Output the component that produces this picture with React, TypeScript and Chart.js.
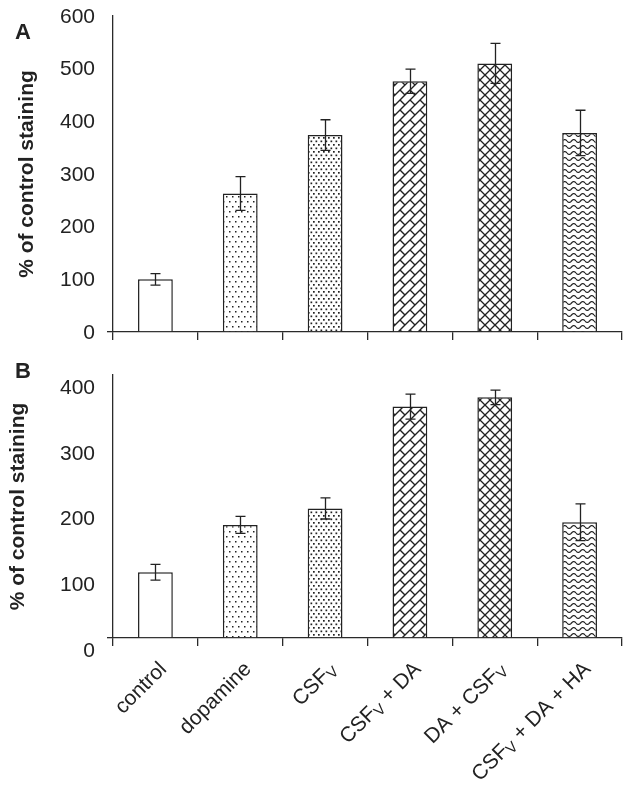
import React, { useEffect, useRef } from 'react';
import { Chart, registerables } from 'chart.js';

Chart.register(...registerables);

// ---------- data ----------
const categories = ['control', 'dopamine', 'CSF_V', 'CSF_V + DA', 'DA + CSF_V', 'CSF_V + DA + HA'];
const valuesA = [100, 263, 374, 476, 510, 378];
const errorsA = [11, 32, 29, 23, 38, 43];
const valuesB = [100, 172, 197, 352, 366, 176];
const errorsB = [12, 13, 16, 19, 11, 28];
const ticksA = [0, 100, 200, 300, 400, 500, 600];
const ticksB = [0, 100, 200, 300, 400];
const yTitle = '% of control staining';
const panelLetters = ['A', 'B'];

const FONT = "'Liberation Sans', Arial, Helvetica, sans-serif";
const INK = '#222222';
const AXIS = '#2a2a2a';

// ---------- fill patterns ----------
function makeTile(w: number, h: number, draw: (g: CanvasRenderingContext2D) => void) {
  const c = document.createElement('canvas');
  c.width = w;
  c.height = h;
  const g = c.getContext('2d') as CanvasRenderingContext2D;
  g.fillStyle = '#ffffff';
  g.fillRect(0, 0, w, h);
  g.fillStyle = INK;
  g.strokeStyle = INK;
  draw(g);
  return g.createPattern(c, 'repeat') as CanvasPattern;
}

function makeFills(): (string | CanvasPattern)[] {
  const sparseDots = makeTile(6, 10, (g) => {
    g.fillRect(1, 1, 1.5, 1.5);
    g.fillRect(4, 6, 1.5, 1.5);
  });
  const denseDots = makeTile(5, 7, (g) => {
    g.fillRect(0.5, 0.5, 1.7, 1.7);
    g.fillRect(3, 4, 1.7, 1.7);
  });
  const brick = makeTile(20, 20, (g) => {
    const d = 10;
    g.lineWidth = 1.4;
    g.beginPath();
    for (let k = -1; k <= 5; k++) {
      const s = k * d;
      g.moveTo(-10, s + 10);
      g.lineTo(s + 10, -10);
    }
    for (let r = -3; r <= 6; r++) {
      const par = ((r % 2) + 2) % 2;
      for (let D = -60; D <= 60; D += 20) {
        const dd = D + par * d;
        const s1 = r * d;
        const s2 = (r + 1) * d;
        g.moveTo((s1 + dd) / 2, (s1 - dd) / 2);
        g.lineTo((s2 + dd) / 2, (s2 - dd) / 2);
      }
    }
    g.stroke();
  });
  const cross = makeTile(10, 10, (g) => {
    g.lineWidth = 1.3;
    g.beginPath();
    g.moveTo(-1, -1);
    g.lineTo(11, 11);
    g.moveTo(11, -1);
    g.lineTo(-1, 11);
    g.stroke();
  });
  const wave = makeTile(9, 6, (g) => {
    g.lineWidth = 1.2;
    g.beginPath();
    for (let x = 0; x <= 9; x += 0.5) {
      const y = 3 + 1.4 * Math.sin((2 * Math.PI * x) / 9);
      if (x === 0) g.moveTo(x, y);
      else g.lineTo(x, y);
    }
    g.stroke();
  });
  return ['#ffffff', sparseDots, denseDots, brick, cross, wave];
}

// ---------- plugins ----------
const errorBarPlugin = {
  id: 'errbars',
  afterDatasetsDraw(chart: any, _args: any, opts: any) {
    const { ctx } = chart;
    const y = chart.scales.y;
    const meta = chart.getDatasetMeta(0);
    const vals = chart.data.datasets[0].data as number[];
    const errs = opts.errors as number[];
    ctx.save();
    ctx.strokeStyle = INK;
    ctx.lineWidth = 1.3;
    meta.data.forEach((bar: any, i: number) => {
      const x = Math.round(bar.x) + 0.5;
      const yT = y.getPixelForValue(vals[i] + errs[i]);
      const yB = y.getPixelForValue(vals[i] - errs[i]);
      ctx.beginPath();
      ctx.moveTo(x, yT);
      ctx.lineTo(x, yB);
      ctx.moveTo(x - 5, yT);
      ctx.lineTo(x + 5, yT);
      ctx.moveTo(x - 5, yB);
      ctx.lineTo(x + 5, yB);
      ctx.stroke();
    });
    ctx.restore();
  },
};

function drawRotatedLabel(ctx: CanvasRenderingContext2D, label: string, x: number, y: number) {
  const parts: { t: string; sub: boolean; w: number }[] = [];
  label.split(/(_\w)/).forEach((p) => {
    if (!p) return;
    if (p.startsWith('_')) parts.push({ t: p.slice(1), sub: true, w: 0 });
    else parts.push({ t: p, sub: false, w: 0 });
  });
  const mainFont = `21px ${FONT}`;
  const subFont = `15px ${FONT}`;
  ctx.save();
  ctx.translate(x, y);
  ctx.rotate(-Math.PI / 4);
  let total = 0;
  parts.forEach((p) => {
    ctx.font = p.sub ? subFont : mainFont;
    p.w = ctx.measureText(p.t).width;
    total += p.w;
  });
  ctx.fillStyle = INK;
  ctx.textBaseline = 'middle';
  ctx.textAlign = 'left';
  let cx = -total;
  parts.forEach((p) => {
    ctx.font = p.sub ? subFont : mainFont;
    ctx.fillText(p.t, cx, p.sub ? 5 : 0);
    cx += p.w;
  });
  ctx.restore();
}

const xLabelPlugin = {
  id: 'xlabels',
  afterDraw(chart: any, _args: any, opts: any) {
    if (!opts.show) return;
    const { ctx } = chart;
    const x = chart.scales.x;
    (chart.data.labels as string[]).forEach((lab, i) => {
      const px = x.getPixelForValue(i);
      drawRotatedLabel(ctx, lab, px + 8, x.top + 28);
    });
  },
};

// ---------- config ----------
function buildConfig(
  values: number[],
  errors: number[],
  ticks: number[],
  fills: (string | CanvasPattern)[],
  showLabels: boolean,
  padding: { left: number; right: number; top: number; bottom: number },
  labelOffset: number,
  titlePad: number
): any {
  return {
    type: 'bar',
    data: {
      labels: categories,
      datasets: [
        {
          data: values,
          backgroundColor: fills,
          borderColor: INK,
          borderWidth: 1.5,
          barPercentage: 0.41,
          categoryPercentage: 1,
        },
      ],
    },
    options: {
      animation: false,
      responsive: false,
      events: [],
      layout: { padding },
      plugins: {
        legend: { display: false },
        tooltip: { enabled: false },
        errbars: { errors },
        xlabels: { show: showLabels },
      },
      scales: {
        x: {
          offset: true,
          grid: {
            display: true,
            offset: true,
            drawOnChartArea: false,
            drawTicks: true,
            tickLength: 8,
            color: AXIS,
            lineWidth: 1.3,
          },
          border: { display: true, color: AXIS, width: 1.3 },
          ticks: { display: false },
          afterFit: (a: any) => {
            a.height = 10;
            a.paddingLeft = 0;
            a.paddingRight = 0;
          },
        },
        y: {
          min: ticks[0],
          max: ticks[ticks.length - 1],
          afterBuildTicks: (a: any) => {
            a.ticks = ticks.map((v) => ({ value: v }));
          },
          grid: {
            display: true,
            drawOnChartArea: false,
            drawTicks: true,
            tickLength: 6,
            lineWidth: 1.3,
            color: (c: any) => (c.tick && c.tick.value === 0 ? AXIS : 'rgba(0,0,0,0)'),
          },
          border: { display: true, color: AXIS, width: 1.3 },
          ticks: {
            padding: 12,
            color: INK,
            labelOffset,
            font: { family: FONT, size: 21 },
          },
          title: {
            display: true,
            text: yTitle,
            color: INK,
            font: { family: FONT, size: 21, weight: 'bold' },
            padding: { top: titlePad, bottom: 0 },
          },
          afterFit: (a: any) => {
            a.width = 113;
            a.paddingTop = 0;
            a.paddingBottom = 0;
          },
        },
      },
    },
    plugins: [errorBarPlugin, xLabelPlugin],
  };
}

export default function App() {
  const refA = useRef<HTMLCanvasElement>(null);
  const refB = useRef<HTMLCanvasElement>(null);

  useEffect(() => {
    const fills = makeFills();
    const a = new Chart(
      refA.current as HTMLCanvasElement,
      buildConfig(valuesA, errorsA, ticksA, fills, false, { left: 0, right: 7, top: 16, bottom: 8 }, 1, 15)
    );
    const b = new Chart(
      refB.current as HTMLCanvasElement,
      buildConfig(valuesB, errorsB, ticksB, fills, true, { left: 0, right: 7, top: 25, bottom: 140 }, 13, 6)
    );
    return () => {
      a.destroy();
      b.destroy();
    };
  }, []);

  const letterStyle: React.CSSProperties = {
    position: 'absolute',
    left: 15,
    fontFamily: FONT,
    fontWeight: 'bold',
    fontSize: 22,
    lineHeight: '24px',
    color: INK,
  };

  return (
    <div style={{ position: 'absolute', left: 0, top: 0, width: 629, height: 788, background: '#fff' }}>
      <canvas
        ref={refA}
        width={629}
        height={350}
        style={{ position: 'absolute', left: 0, top: 0, width: 629, height: 350 }}
      />
      <canvas
        ref={refB}
        width={629}
        height={438}
        style={{ position: 'absolute', left: 0, top: 350, width: 629, height: 438 }}
      />
      <div style={{ ...letterStyle, top: 20 }}>{panelLetters[0]}</div>
      <div style={{ ...letterStyle, top: 359 }}>{panelLetters[1]}</div>
    </div>
  );
}
